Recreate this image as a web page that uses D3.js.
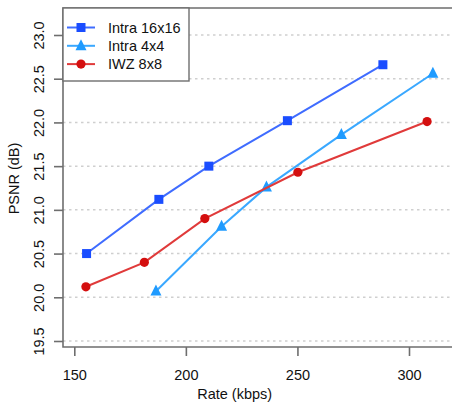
<!DOCTYPE html>
<html>
<head>
<meta charset="utf-8">
<script src="https://cdn.jsdelivr.net/npm/d3@7/dist/d3.min.js"></script>
<style>
html,body{margin:0;padding:0;background:#fff;}
svg{display:block;font-family:"Liberation Sans",Arial,Helvetica,sans-serif;}
</style>
</head>
<body>
<svg id="chart" width="452" height="407"></svg>
<script>
// ---- data ----
const seriesNames = ["Intra 16x16", "Intra 4x4", "IWZ 8x8"];
const intra16Rate = [155.5, 187.9, 210.3, 245.5, 288.3];
const intra16Psnr = [20.50, 21.12, 21.50, 22.02, 22.66];
const intra4Rate = [186.6, 216.0, 236.1, 269.7, 310.7];
const intra4Psnr = [20.07, 20.81, 21.26, 21.86, 22.56];
const iwzRate = [155.2, 181.4, 208.5, 250.2, 308.1];
const iwzPsnr = [20.12, 20.40, 20.90, 21.43, 22.01];
const xTicks = [150, 200, 250, 300];
const yTicks = [19.5, 20.0, 20.5, 21.0, 21.5, 22.0, 22.5, 23.0];
const xTitle = "Rate (kbps)";
const yTitle = "PSNR (dB)";

const series = [
  {name: seriesNames[0], rate: intra16Rate, psnr: intra16Psnr, line: "#3f6cff", fill: "#1a4dff", shape: "square"},
  {name: seriesNames[1], rate: intra4Rate, psnr: intra4Psnr, line: "#3aa8ff", fill: "#1f9bff", shape: "triangle"},
  {name: seriesNames[2], rate: iwzRate, psnr: iwzPsnr, line: "#e03a3a", fill: "#d40f0f", shape: "circle"}
];

const svg = d3.select("#chart");
const plotLeft = 63, plotTop = 8, plotBottom = 347, plotRight = 460;

const x = d3.scaleLinear().domain([150, 300]).range([74.3, 409]);
const y = d3.scaleLinear().domain([19.5, 23.0]).range([341, 35]);

// gridlines
svg.append("g").selectAll("line").data(yTicks).join("line")
  .attr("x1", plotLeft).attr("x2", 452)
  .attr("y1", d => y(d)).attr("y2", d => y(d))
  .attr("stroke", "#cfcfcf").attr("stroke-width", 1.5)
  .attr("stroke-dasharray", "2.5,3.5");

// frame (left, top, bottom)
svg.append("path")
  .attr("d", `M${plotRight},${plotTop}H${plotLeft}V${plotBottom}H${plotRight}`)
  .attr("fill", "none").attr("stroke", "#6e6e6e").attr("stroke-width", 1.6);

// x axis
const xAxis = svg.append("g").attr("transform", `translate(0,${plotBottom})`)
  .call(d3.axisBottom(x).tickValues(xTicks).tickSize(9).tickPadding(14).tickFormat(d3.format("d")));
xAxis.select(".domain").remove();
xAxis.selectAll(".tick line").attr("stroke", "#6e6e6e").attr("stroke-width", 1.6);
xAxis.selectAll(".tick text").attr("font-size", "14.5px").attr("fill", "#111")
  .attr("font-family", "Liberation Sans, Arial, sans-serif");

// y axis
const yAxis = svg.append("g").attr("transform", `translate(${plotLeft},0)`)
  .call(d3.axisLeft(y).tickValues(yTicks).tickSize(9).tickFormat(d3.format(".1f")));
yAxis.select(".domain").remove();
yAxis.selectAll(".tick line").attr("stroke", "#6e6e6e").attr("stroke-width", 1.6);
yAxis.selectAll(".tick text")
  .attr("font-size", "14.5px").attr("fill", "#111")
  .attr("font-family", "Liberation Sans, Arial, sans-serif")
  .attr("text-anchor", "middle").attr("dy", null).attr("x", null)
  .attr("transform", "translate(-19.5,0) rotate(-90)");

// titles
svg.append("text").attr("x", x(225) - 7).attr("y", 398.5)
  .attr("text-anchor", "middle").attr("font-size", "14.5px").attr("fill", "#111").text(xTitle);
svg.append("text").attr("transform", `translate(18.5,${(plotTop + plotBottom) / 2 + 1}) rotate(-90)`)
  .attr("text-anchor", "middle").attr("font-size", "14.5px").attr("fill", "#111").text(yTitle);

// markers
function marker(g, shape, fill, cx, cy) {
  if (shape === "square") {
    g.append("rect").attr("x", cx - 4.5).attr("y", cy - 4.5).attr("width", 9).attr("height", 9).attr("fill", fill);
  } else if (shape === "triangle") {
    const s = 11;
    g.append("path").attr("d", `M${cx},${cy - s * 0.6}L${cx + s / 2},${cy + s * 0.4}L${cx - s / 2},${cy + s * 0.4}Z`).attr("fill", fill);
  } else {
    g.append("circle").attr("cx", cx).attr("cy", cy).attr("r", 4.6).attr("fill", fill);
  }
}

const line = d3.line().x(d => x(d[0])).y(d => y(d[1]));
series.forEach(s => {
  const pts = s.rate.map((r, i) => [r, s.psnr[i]]);
  const g = svg.append("g");
  g.append("path").attr("d", line(pts)).attr("fill", "none")
    .attr("stroke", s.line).attr("stroke-width", 2);
  pts.forEach(p => marker(g, s.shape, s.fill, x(p[0]), y(p[1])));
});

// legend
const lg = svg.append("g");
lg.append("rect").attr("x", plotLeft).attr("y", plotTop).attr("width", 126).attr("height", 73)
  .attr("fill", "#fff").attr("stroke", "#6e6e6e").attr("stroke-width", 1.4);
series.forEach((s, i) => {
  const yy = 27.5 + i * 18.3;
  lg.append("line").attr("x1", 67).attr("x2", 95).attr("y1", yy).attr("y2", yy)
    .attr("stroke", s.line).attr("stroke-width", 2);
  marker(lg, s.shape, s.fill, 81, yy);
  lg.append("text").attr("x", 108).attr("y", yy + 5).attr("font-size", "14.5px").attr("fill", "#111").text(s.name);
});
</script>
</body>
</html>
